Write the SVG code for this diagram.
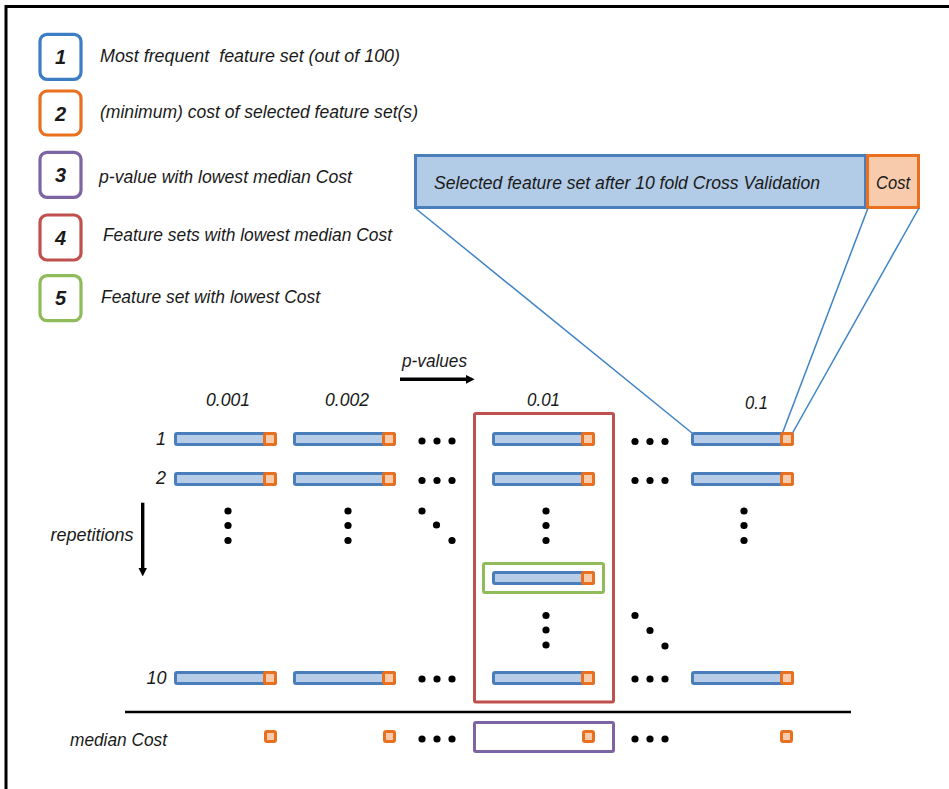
<svg xmlns="http://www.w3.org/2000/svg" xmlns:xlink="http://www.w3.org/1999/xlink" width="949" height="789" viewBox="0 0 949 789">
  <style>
    text { font-family: "Liberation Sans", Arial, sans-serif; fill: #1a1a1a; }
    .it { font-style: italic; font-size: 18px; }
    .num { font-style: italic; font-weight: bold; font-size: 20px; text-anchor: middle; }
    .key { fill: #ffffff; stroke-width: 3.2; }
    .dot { fill: #000000; }
    .link { stroke: #3f83c6; stroke-width: 1.5; fill: none; }
  </style>
  <defs>
    <!-- one feature-set bar: blue body with its orange cost cell -->
    <g id="bar">
      <rect x="1.5" y="1.5" width="100" height="11" rx="1.5" fill="#b7cde7" stroke="#4a7ebb" stroke-width="3"/>
      <rect x="90.5" y="1.5" width="11" height="11" rx="1.5" fill="#f8cbad" stroke="#e8701f" stroke-width="3"/>
    </g>
    <!-- cost cell alone -->
    <rect id="cost" x="1.5" y="1.5" width="10" height="10" rx="1.5" fill="#f8cbad" stroke="#e8701f" stroke-width="3"/>
    <marker id="head" viewBox="0 0 8 8" refX="1" refY="4" markerWidth="2.5" markerHeight="2.5" orient="auto" markerUnits="strokeWidth">
      <path d="M0,0 L8,4 L0,8 Z" fill="#000"/>
    </marker>
  </defs>

  <rect width="949" height="789" fill="#ffffff"/>
  <!-- outer frame (top and left edges) -->
  <path d="M6,789 V6.5 H949" fill="none" stroke="#000" stroke-width="3"/>

  <!-- legend -->
  <g id="legend">
    <g id="key1">
      <rect class="key" x="40" y="34.3" width="41" height="45" rx="7" stroke="#3c7dc3"/>
      <text class="num" x="60.5" y="64">1</text>
      <text class="it" x="100" y="62" textLength="300" lengthAdjust="spacingAndGlyphs" xml:space="preserve">Most frequent  feature set (out of 100)</text>
    </g>
    <g id="key2">
      <rect class="key" x="40" y="91" width="41" height="44" rx="7" stroke="#e8701f"/>
      <text class="num" x="60.5" y="120.5">2</text>
      <text class="it" x="100" y="118.3" textLength="318" lengthAdjust="spacingAndGlyphs">(minimum) cost of selected feature set(s)</text>
    </g>
    <g id="key3">
      <rect class="key" x="40" y="152.3" width="41" height="45" rx="7" stroke="#7d64a3"/>
      <text class="num" x="60.5" y="181.7">3</text>
      <text class="it" x="99" y="182.5" textLength="253" lengthAdjust="spacingAndGlyphs">p-value with lowest median Cost</text>
    </g>
    <g id="key4">
      <rect class="key" x="40" y="215" width="41" height="45" rx="7" stroke="#c0504d"/>
      <text class="num" x="60.5" y="245">4</text>
      <text class="it" x="103" y="240.5" textLength="289" lengthAdjust="spacingAndGlyphs">Feature sets with lowest median Cost</text>
    </g>
    <g id="key5">
      <rect class="key" x="40" y="275.7" width="41" height="45" rx="7" stroke="#8fbb5a"/>
      <text class="num" x="60.5" y="305">5</text>
      <text class="it" x="101" y="303.3" textLength="219" lengthAdjust="spacingAndGlyphs">Feature set with lowest Cost</text>
    </g>
  </g>

  <!-- selected feature set with its cost -->
  <g id="selected">
    <rect x="415.5" y="155.5" width="450" height="52" fill="#b2cbe6" stroke="#4a7ebb" stroke-width="3"/>
    <rect x="867.5" y="155.5" width="51" height="52" fill="#f8cbad" stroke="#e8701f" stroke-width="3"/>
    <text class="it" x="434" y="188.5" textLength="386" lengthAdjust="spacingAndGlyphs">Selected feature set after 10 fold Cross Validation</text>
    <text class="it" x="876" y="188.5" textLength="34" lengthAdjust="spacingAndGlyphs">Cost</text>
  </g>

  <!-- connectors -->
  <g id="connectors">
    <line class="link" x1="415" y1="208" x2="692" y2="433"/>
    <line class="link" x1="868" y1="208" x2="782.5" y2="433"/>
    <line class="link" x1="919" y1="208" x2="792.5" y2="433"/>
    <line x1="400" y1="379.3" x2="467" y2="379.3" stroke="#000" stroke-width="3.5" marker-end="url(#head)"/>
    <line x1="142.7" y1="502.7" x2="142.7" y2="569" stroke="#000" stroke-width="3.4" marker-end="url(#head)"/>
  </g>

  <!-- axis labels -->
  <g id="labels">
    <text class="it" x="402" y="367" textLength="65" lengthAdjust="spacingAndGlyphs">p-values</text>
    <text class="it" x="206" y="405.5" textLength="44" lengthAdjust="spacingAndGlyphs">0.001</text>
    <text class="it" x="325" y="405.5" textLength="44" lengthAdjust="spacingAndGlyphs">0.002</text>
    <text class="it" x="527" y="405.5" textLength="33" lengthAdjust="spacingAndGlyphs">0.01</text>
    <text class="it" x="745" y="409" textLength="23" lengthAdjust="spacingAndGlyphs">0.1</text>
    <text class="it" x="166" y="445" text-anchor="end">1</text>
    <text class="it" x="166" y="484" text-anchor="end">2</text>
    <text class="it" x="166.5" y="683.5" text-anchor="end">10</text>
    <text class="it" x="50.5" y="540.7" textLength="83" lengthAdjust="spacingAndGlyphs">repetitions</text>
    <text class="it" x="70" y="745.5" textLength="97" lengthAdjust="spacingAndGlyphs">median Cost</text>
  </g>

  <!-- highlight frames -->
  <g id="best-p-column">
    <rect x="474.5" y="413.5" width="139" height="288.5" rx="1.5" fill="none" stroke="#c0504d" stroke-width="3"/>
  </g>
  <g id="best-set">
    <rect x="483.5" y="563.5" width="120" height="29" rx="1.5" fill="none" stroke="#8fbb5a" stroke-width="3"/>
  </g>
  <g id="best-median">
    <rect x="474.5" y="722.5" width="139" height="29" rx="1.5" fill="none" stroke="#7d64a3" stroke-width="3"/>
  </g>

  <!-- feature-set bars per p-value -->
  <g id="col-0001">
    <use xlink:href="#bar" x="174" y="432"/>
    <use xlink:href="#bar" x="174" y="472"/>
    <use xlink:href="#bar" x="174" y="671"/>
  </g>
  <g id="col-0002">
    <use xlink:href="#bar" x="293" y="432"/>
    <use xlink:href="#bar" x="293" y="472"/>
    <use xlink:href="#bar" x="293" y="671"/>
  </g>
  <g id="col-001">
    <use xlink:href="#bar" x="492" y="432"/>
    <use xlink:href="#bar" x="492" y="472"/>
    <use xlink:href="#bar" x="492" y="571"/>
    <use xlink:href="#bar" x="492" y="671"/>
  </g>
  <g id="col-01">
    <use xlink:href="#bar" x="691" y="432"/>
    <use xlink:href="#bar" x="691" y="472"/>
    <use xlink:href="#bar" x="691" y="671"/>
  </g>

  <!-- median cost row -->
  <g id="median-costs">
    <use xlink:href="#cost" x="264" y="730"/>
    <use xlink:href="#cost" x="383" y="730"/>
    <use xlink:href="#cost" x="582" y="730"/>
    <use xlink:href="#cost" x="780" y="730"/>
  </g>
  <line x1="125" y1="712" x2="851" y2="712" stroke="#000" stroke-width="2.6"/>

  <!-- ellipses -->
  <g id="ellipses" class="dot">
    <circle cx="422" cy="441" r="3.6"/><circle cx="437" cy="441" r="3.6"/><circle cx="452" cy="441" r="3.6"/>
    <circle cx="422" cy="480.5" r="3.6"/><circle cx="437" cy="480.5" r="3.6"/><circle cx="452" cy="480.5" r="3.6"/>
    <circle cx="422" cy="679" r="3.6"/><circle cx="437" cy="679" r="3.6"/><circle cx="452" cy="679" r="3.6"/>
    <circle cx="422" cy="739" r="3.6"/><circle cx="437" cy="739" r="3.6"/><circle cx="452" cy="739" r="3.6"/>
    <circle cx="635" cy="441.5" r="3.6"/><circle cx="650" cy="441.5" r="3.6"/><circle cx="665" cy="441.5" r="3.6"/>
    <circle cx="635" cy="480.5" r="3.6"/><circle cx="650" cy="480.5" r="3.6"/><circle cx="665" cy="480.5" r="3.6"/>
    <circle cx="635" cy="679" r="3.6"/><circle cx="650" cy="679" r="3.6"/><circle cx="665" cy="679" r="3.6"/>
    <circle cx="635" cy="739" r="3.6"/><circle cx="650" cy="739" r="3.6"/><circle cx="665" cy="739" r="3.6"/>
    <!-- vertical -->
    <circle cx="228" cy="511" r="3.6"/><circle cx="228" cy="525.5" r="3.6"/><circle cx="228" cy="540.5" r="3.6"/>
    <circle cx="348" cy="511" r="3.6"/><circle cx="348" cy="525.5" r="3.6"/><circle cx="348" cy="540.5" r="3.6"/>
    <circle cx="546" cy="511" r="3.6"/><circle cx="546" cy="525.5" r="3.6"/><circle cx="546" cy="540.5" r="3.6"/>
    <circle cx="744" cy="511" r="3.6"/><circle cx="744" cy="525.5" r="3.6"/><circle cx="744" cy="540.5" r="3.6"/>
    <circle cx="546" cy="615.5" r="3.6"/><circle cx="546" cy="630" r="3.6"/><circle cx="546" cy="645" r="3.6"/>
    <!-- diagonal -->
    <circle cx="422" cy="511" r="3.6"/><circle cx="436.5" cy="525" r="3.6"/><circle cx="452" cy="540.5" r="3.6"/>
    <circle cx="635" cy="615.5" r="3.6"/><circle cx="650" cy="630.5" r="3.6"/><circle cx="665" cy="646" r="3.6"/>
  </g>
</svg>
